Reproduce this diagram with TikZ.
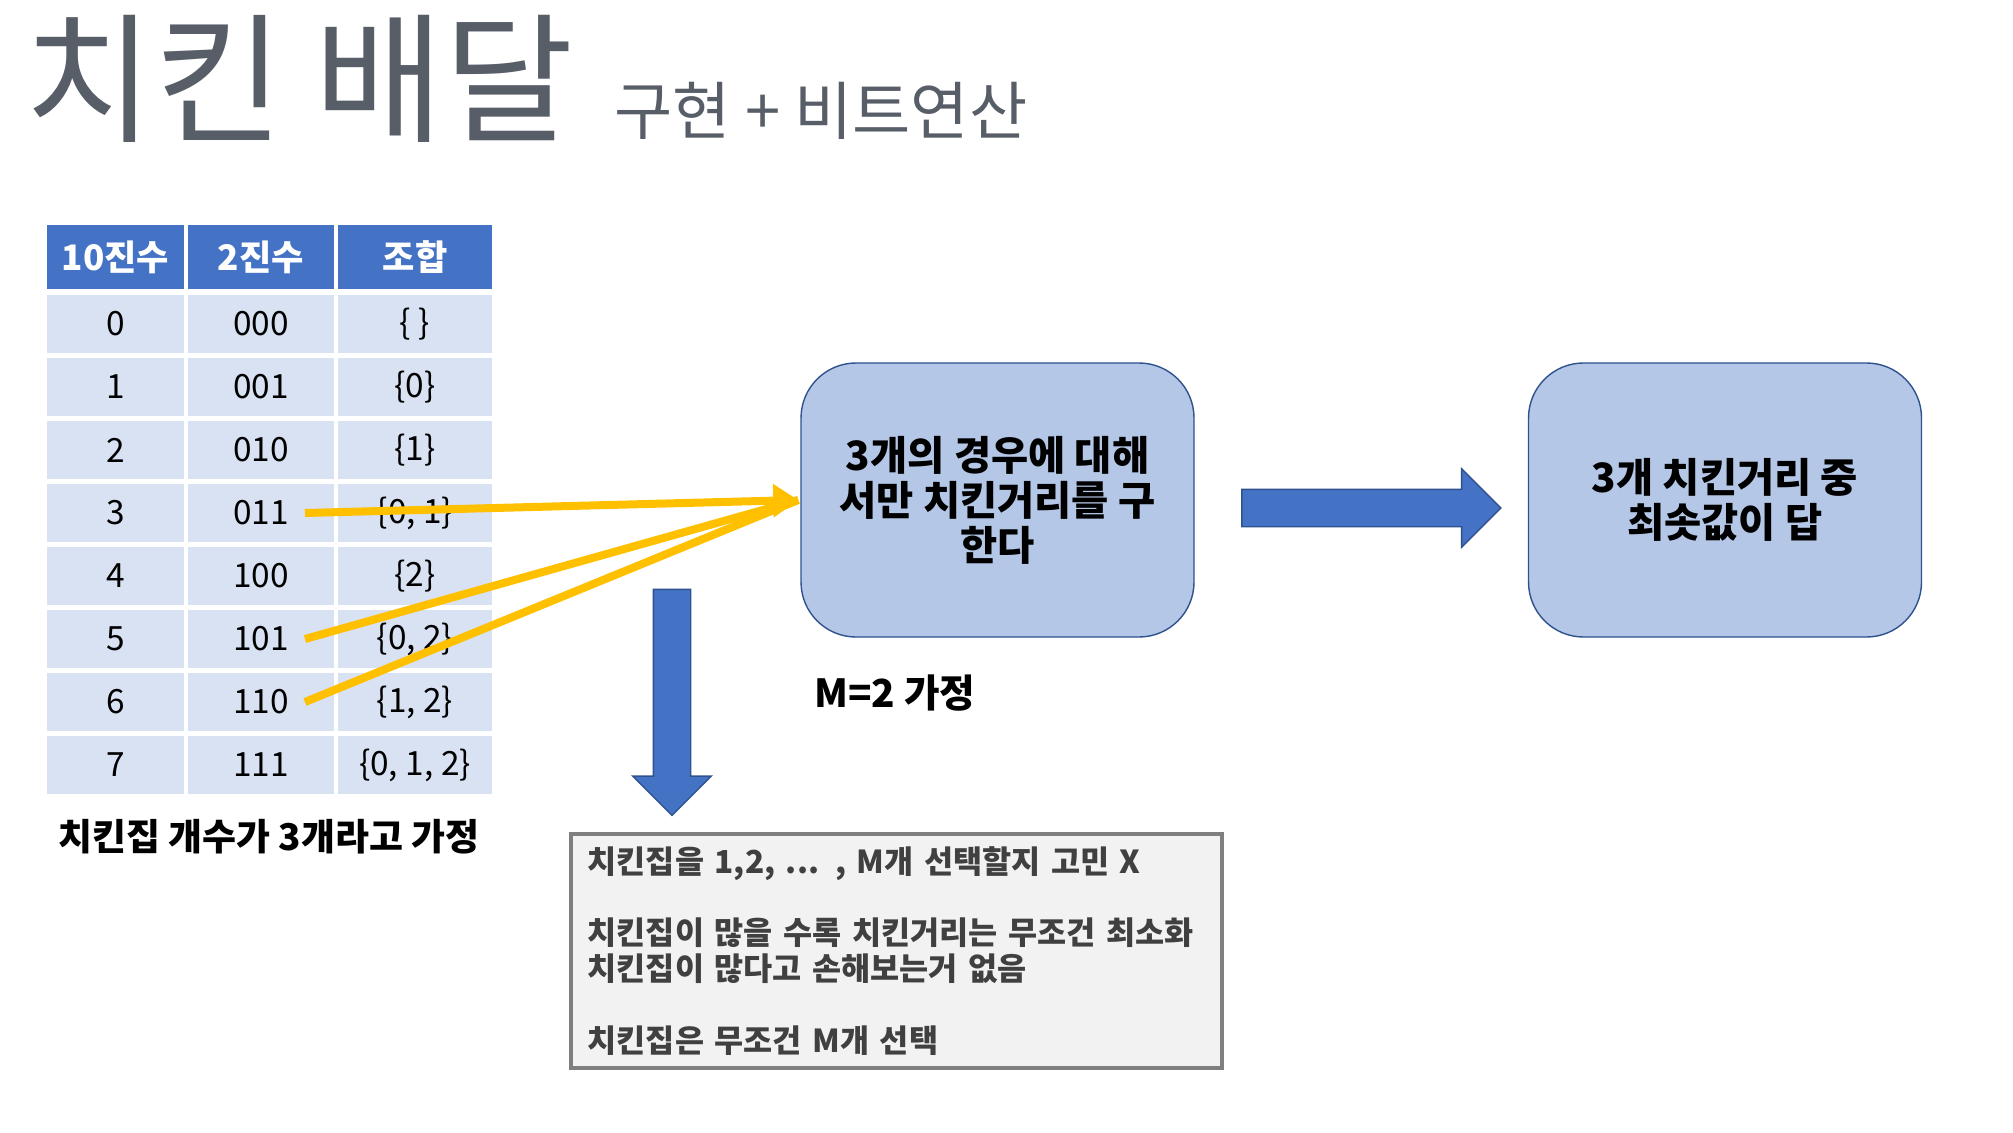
\documentclass[tikz,border=0pt]{standalone}
\usepackage{fontspec}
\setmainfont{Noto Sans CJK KR}
\usetikzlibrary{arrows.meta,shapes.arrows}

\definecolor{hdblue}{HTML}{4472C4}
\definecolor{rowblue}{HTML}{D9E2F3}
\definecolor{boxblue}{HTML}{B4C7E7}
\definecolor{boxline}{HTML}{2F528F}
\definecolor{hlyellow}{HTML}{FFC000}
\definecolor{titlegray}{HTML}{585E68}
\definecolor{notegray}{HTML}{F2F2F2}
\definecolor{noteline}{HTML}{7F7F7F}
\definecolor{notetext}{HTML}{404040}

\begin{document}
\begin{tikzpicture}[
    cell/.style={draw=white, line width=1.2pt, fill=rowblue, minimum height=0.63cm, inner sep=0pt, font=\fontsize{9.5}{11}\selectfont},
    hcell/.style={cell, fill=hdblue, minimum height=0.68cm, text=white, font=\fontsize{10}{12}\selectfont\bfseries},
    flowbox/.style={draw=boxline, fill=boxblue, rounded corners=0.55cm, minimum width=3.93cm, minimum height=2.74cm, align=center, font=\fontsize{11.5}{12.8}\selectfont\bfseries},
    bigarr/.style={single arrow, draw=boxline, fill=hdblue, inner sep=0.18cm, single arrow head extend=0.205cm},
    hl/.style={hlyellow, line width=0.08cm},
    lbl/.style={font=\fontsize{10.5}{12}\selectfont\bfseries}
]
\useasboundingbox (0,0) rectangle (20.13,-11.32);

% title
\node[anchor=base west, inner sep=0pt, text=titlegray, font=\fontsize{40}{42}\selectfont] (title) at (0.24,-1.32) {치킨 배달};
\node[anchor=base west, inner sep=0pt, text=titlegray, font=\fontsize{18}{20}\selectfont] (subtitle) at (6.14,-1.35) {구현 + 비트연산};

% table
\node[hcell, minimum width=1.41cm] (hd0) at (1.155,-2.57) {10진수};
\node[hcell, minimum width=1.50cm] (hd1) at (2.61,-2.57) {2진수};
\node[hcell, minimum width=1.58cm] (hd2) at (4.15,-2.57) {조합};
\foreach \d/\b/\s in {0/000/{\{ \}}, 1/001/{\{0\}}, 2/010/{\{1\}}, 3/011/{\{0, 1\}}, 4/100/{\{2\}}, 5/101/{\{0, 2\}}, 6/110/{\{1, 2\}}, 7/111/{\{0, 1, 2\}}} {
  \node[cell, minimum width=1.41cm] (dec\d) at (1.155,-3.24-0.63*\d) {\d};
  \node[cell, minimum width=1.50cm] (bin\d) at (2.61,-3.24-0.63*\d) {\b};
  \node[cell, minimum width=1.58cm] (set\d) at (4.15,-3.24-0.63*\d) {\s};
}
\node[lbl] (cap) at (2.69,-8.37) {치킨집 개수가 3개라고 가정};

% flow
\node[flowbox] (box1) at (9.975,-5.0) {3개의 경우에 대해\\서만 치킨거리를 구\\한다};
\node[flowbox] (box2) at (17.25,-5.0) {3개 치킨거리 중\\최솟값이 답};
\node[bigarr, minimum height=2.59cm] (next) at (13.62,-5.08) {};
\node[bigarr, minimum height=2.26cm, shape border rotate=270] (down) at (6.72,-6.93) {};
\node[lbl, font=\fontsize{11}{13}\selectfont\bfseries] (mlbl) at (8.95,-6.93) {M=2 가정};

% note
\node[draw=noteline, line width=1pt, fill=notegray, anchor=north west, minimum width=6.51cm, minimum height=2.34cm, text width=6.17cm, inner xsep=0.17cm, align=left, text=notetext, font=\fontsize{9}{10.2}\selectfont\bfseries] (note) at (5.69,-8.32) {치킨집을 1,2, ... , M개 선택할지 고민 X\\[10.2pt]
치킨집이 많을 수록 치킨거리는 무조건 최소화\\
치킨집이 많다고 손해보는거 없음\\[10.2pt]
치킨집은 무조건 M개 선택};

% picked rows
\coordinate (hit) at ([xshift=-0.02cm]box1.west);
\draw[hl] ([xshift=0.44cm]bin5.center) -- (hit);
\draw[hl] ([xshift=0.44cm]bin6.center) -- (hit);
\draw[hl, -{Triangle[length=0.25cm,width=0.32cm]}] ([xshift=0.44cm]bin3.center) -- (hit);
\end{tikzpicture}
\end{document}
